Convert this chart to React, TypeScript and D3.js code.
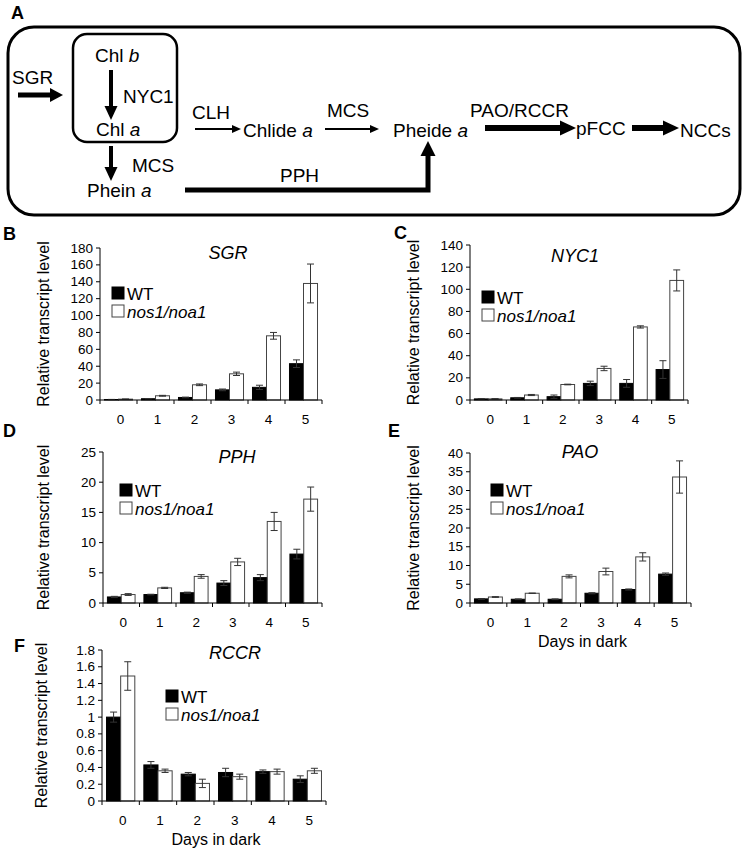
import React from "react";
import * as d3 from "d3";

// ---------- data ----------
const days = ["0", "1", "2", "3", "4", "5"];
const seriesKeys = ["wt", "mut"];
const legendLabels = ["WT", "nos1/noa1"];

const sgrWT = [0.6, 1.5, 3, 12, 15, 43];
const sgrWTErr = [0.1, 0.2, 0.4, 1, 2.5, 4.5];
const sgrMut = [1, 5, 18, 31, 76, 138];
const sgrMutErr = [0.1, 0.5, 1, 2, 4, 23];

const nyc1WT = [1, 2, 3, 15, 15, 27.5];
const nyc1WTErr = [0.2, 0.3, 1.5, 2, 3.5, 8];
const nyc1Mut = [1, 4.5, 14, 28.5, 66, 108];
const nyc1MutErr = [0.2, 0.5, 0.3, 2, 1, 9.5];

const pphWT = [1.0, 1.4, 1.7, 3.3, 4.2, 8.1];
const pphWTErr = [0.1, 0.05, 0.1, 0.4, 0.5, 0.8];
const pphMut = [1.4, 2.5, 4.4, 6.8, 13.5, 17.2];
const pphMutErr = [0.15, 0.1, 0.3, 0.6, 1.5, 2];

const paoWT = [1.1, 1.0, 1.0, 2.6, 3.6, 7.7];
const paoWTErr = [0.1, 0.1, 0.1, 0.15, 0.15, 0.3];
const paoMut = [1.6, 2.6, 7.1, 8.4, 12.3, 33.6];
const paoMutErr = [0.1, 0.05, 0.4, 0.9, 1.1, 4.3];

const rccrWT = [1.0, 0.43, 0.32, 0.34, 0.35, 0.26];
const rccrWTErr = [0.06, 0.04, 0.02, 0.05, 0.02, 0.04];
const rccrMut = [1.49, 0.36, 0.21, 0.29, 0.35, 0.36];
const rccrMutErr = [0.17, 0.02, 0.05, 0.03, 0.03, 0.03];

const yTitle = "Relative transcript level";
const xTitle = "Days in dark";

// ---------- layout ----------
const FONT = "'Liberation Sans', Arial, Helvetica, sans-serif";

type Spec = {
  letter: string; lx: number; ly: number;
  gene: string;
  wt: number[]; wtErr: number[]; mut: number[]; mutErr: number[];
  left: number; right: number; top: number; bottom: number;
  yMax: number; step: number;
  titleX: number; titleY: number;
  legX: number; legY: number;
  yLabX: number; showX: boolean;
};

const panels: Spec[] = [
  { letter: "B", lx: 3, ly: 240, gene: "SGR", wt: sgrWT, wtErr: sgrWTErr, mut: sgrMut, mutErr: sgrMutErr,
    left: 100, right: 322, top: 248, bottom: 400, yMax: 180, step: 20, titleX: 228, titleY: 259,
    legX: 112, legY: 287, yLabX: 45, showX: false },
  { letter: "C", lx: 394, ly: 239, gene: "NYC1", wt: nyc1WT, wtErr: nyc1WTErr, mut: nyc1Mut, mutErr: nyc1MutErr,
    left: 470, right: 688, top: 245, bottom: 400, yMax: 140, step: 20, titleX: 575, titleY: 262,
    legX: 482, legY: 291, yLabX: 415, showX: false },
  { letter: "D", lx: 3, ly: 437, gene: "PPH", wt: pphWT, wtErr: pphWTErr, mut: pphMut, mutErr: pphMutErr,
    left: 103, right: 322, top: 452, bottom: 603, yMax: 25, step: 5, titleX: 237, titleY: 463,
    legX: 120, legY: 484, yLabX: 45, showX: false },
  { letter: "E", lx: 388, ly: 437, gene: "PAO", wt: paoWT, wtErr: paoWTErr, mut: paoMut, mutErr: paoMutErr,
    left: 470, right: 691, top: 453, bottom: 603, yMax: 40, step: 5, titleX: 580, titleY: 458,
    legX: 491, legY: 484, yLabX: 415, showX: true },
  { letter: "F", lx: 14, ly: 652, gene: "RCCR", wt: rccrWT, wtErr: rccrWTErr, mut: rccrMut, mutErr: rccrMutErr,
    left: 102, right: 326, top: 650, bottom: 801, yMax: 1.8, step: 0.2, titleX: 235, titleY: 659,
    legX: 166, legY: 690, yLabX: 43, showX: true },
];

function Panel({ s }: { s: Spec }) {
  const x = d3.scaleBand<string>().domain(days).range([s.left, s.right]).paddingInner(0).paddingOuter(0);
  const xs = d3.scaleBand<string>().domain(seriesKeys).range([0, x.bandwidth()]).paddingInner(0).paddingOuter(0.32);
  const y = d3.scaleLinear().domain([0, s.yMax]).range([s.bottom, s.top]);
  const ticks = d3.range(0, s.yMax + s.step / 2, s.step).map((t) => +t.toFixed(3));
  const fmt = (t: number) => String(+t.toFixed(2));
  const series = [
    { key: "wt", vals: s.wt, errs: s.wtErr, fill: "#000" },
    { key: "mut", vals: s.mut, errs: s.mutErr, fill: "#fff" },
  ];
  const bounds = d3.range(0, days.length + 1).map((i) => s.left + i * x.step());
  const sq = 13;
  return (
    <g fontFamily={FONT}>
      <text x={s.lx} y={s.ly} fontSize={18} fontWeight="bold">{s.letter}</text>
      <text transform={`translate(${s.yLabX},${(s.top + s.bottom) / 2}) rotate(-90)`} textAnchor="middle"
        dominantBaseline="middle" fontSize={16}>{yTitle}</text>
      {series.map((se) =>
        se.vals.map((v, i) => {
          const bx = (x(days[i]) as number) + (xs(se.key) as number);
          const bw = xs.bandwidth();
          return (
            <rect key={se.key + i} x={bx} y={y(v)} width={bw} height={s.bottom - y(v)}
              fill={se.fill} stroke={se.key === "mut" ? "#444" : "#000"} strokeWidth={1} />
          );
        })
      )}
      {series.map((se) =>
        se.vals.map((v, i) => {
          const cx = (x(days[i]) as number) + (xs(se.key) as number) + xs.bandwidth() / 2;
          const y1 = y(v + se.errs[i]);
          const y2 = y(Math.max(0, v - se.errs[i]));
          return (
            <g key={"e" + se.key + i} stroke="#333" strokeWidth={1}>
              <line x1={cx} x2={cx} y1={y1} y2={y2} />
              <line x1={cx - 3.5} x2={cx + 3.5} y1={y1} y2={y1} />
              <line x1={cx - 3.5} x2={cx + 3.5} y1={y2} y2={y2} />
            </g>
          );
        })
      )}
      <line x1={s.left} x2={s.left} y1={s.top} y2={s.bottom} stroke="#000" strokeWidth={1} />
      {ticks.map((t) => (
        <g key={"t" + t}>
          <line x1={s.left - 4} x2={s.left} y1={y(t)} y2={y(t)} stroke="#000" strokeWidth={1} />
          <text x={s.left - 7} y={y(t)} textAnchor="end" dominantBaseline="central" fontSize={13.5}>{fmt(t)}</text>
        </g>
      ))}
      <line x1={s.left} x2={s.right} y1={s.bottom} y2={s.bottom} stroke="#000" strokeWidth={1} />
      {bounds.map((bx, i) => (
        <line key={"b" + i} x1={bx} x2={bx} y1={s.bottom} y2={s.bottom + 4} stroke="#000" strokeWidth={1} />
      ))}
      {days.map((d) => (
        <text key={"x" + d} x={(x(d) as number) + x.bandwidth() / 2 + 2} y={s.bottom + 24} textAnchor="middle" fontSize={13.5}>{d}</text>
      ))}
      {s.showX && (
        <text x={(s.left + s.right) / 2 + 2} y={s.bottom + 44} textAnchor="middle" fontSize={16}>{xTitle}</text>
      )}
      <text x={s.titleX} y={s.titleY} textAnchor="middle" fontSize={18} fontStyle="italic">{s.gene}</text>
      {legendLabels.map((lab, i) => (
        <g key={"l" + i}>
          <rect x={s.legX} y={s.legY + i * 18} width={sq - 1} height={sq - 1}
            fill={i === 0 ? "#000" : "#fff"} stroke={i === 0 ? "#000" : "#444"} strokeWidth={1} />
          <text x={s.legX + sq + 2} y={s.legY + i * 18 + sq - 0.5} fontSize={17}
            fontStyle={i === 0 ? "normal" : "italic"}>{lab}</text>
        </g>
      ))}
    </g>
  );
}

function Arrow({ x1, y1, x2, y2, w, hl, hw }: { x1: number; y1: number; x2: number; y2: number; w: number; hl: number; hw: number }) {
  const dx = x2 - x1, dy = y2 - y1;
  const len = Math.hypot(dx, dy);
  const ux = dx / len, uy = dy / len;
  const bx = x2 - ux * hl, by = y2 - uy * hl;
  const px = -uy, py = ux;
  return (
    <g>
      <line x1={x1} y1={y1} x2={bx + ux} y2={by + uy} stroke="#000" strokeWidth={w} />
      <polygon points={`${x2},${y2} ${bx + px * hw / 2},${by + py * hw / 2} ${bx - px * hw / 2},${by - py * hw / 2}`} fill="#000" />
    </g>
  );
}

function Diagram() {
  const fs = 19;
  return (
    <g fontFamily={FONT} fontSize={fs}>
      <text x={11} y={19} fontSize={18} fontWeight="bold">A</text>
      <rect x={8} y={27} width={732} height={188} rx={26} ry={26} fill="none" stroke="#000" strokeWidth={3} />
      <rect x={73} y={34} width={104} height={108} rx={14} ry={14} fill="none" stroke="#000" strokeWidth={2.5} />
      <text x={95} y={62}>Chl <tspan fontStyle="italic">b</tspan></text>
      <text x={12} y={84}>SGR</text>
      <Arrow x1={18} y1={95} x2={63} y2={95} w={5} hl={13} hw={14} />
      <Arrow x1={111} y1={70} x2={111} y2={120} w={4} hl={14} hw={13} />
      <text x={123} y={103}>NYC1</text>
      <text x={96} y={136}>Chl <tspan fontStyle="italic">a</tspan></text>
      <text x={192} y={119}>CLH</text>
      <Arrow x1={195} y1={129} x2={241} y2={129} w={2} hl={9} hw={8} />
      <text x={243} y={137}>Chlide <tspan fontStyle="italic">a</tspan></text>
      <text x={327} y={117}>MCS</text>
      <Arrow x1={325} y1={129} x2={379} y2={129} w={2} hl={9} hw={8} />
      <text x={393} y={137}>Pheide <tspan fontStyle="italic">a</tspan></text>
      <text x={470} y={117}>PAO/RCCR</text>
      <Arrow x1={485} y1={128} x2={576} y2={128} w={6} hl={16} hw={15} />
      <text x={576} y={135}>pFCC</text>
      <Arrow x1={632} y1={128} x2={679} y2={128} w={6} hl={16} hw={15} />
      <text x={680} y={137}>NCCs</text>
      <Arrow x1={111} y1={146} x2={111} y2={181} w={4} hl={14} hw={13} />
      <text x={132} y={172}>MCS</text>
      <text x={87} y={197}>Phein <tspan fontStyle="italic">a</tspan></text>
      <text x={280} y={182}>PPH</text>
      <polyline points="185,190 428,190 428,156" fill="none" stroke="#000" strokeWidth={5} strokeLinejoin="miter" />
      <polygon points="428,141 420.5,156 435.5,156" fill="#000" />
    </g>
  );
}

export default function App() {
  return (
    <svg width={747} height={852} viewBox="0 0 747 852"
      style={{ position: "absolute", left: 0, top: 0, background: "#fff", display: "block" }}>
      <rect x={0} y={0} width={747} height={852} fill="#fff" />
      <Diagram />
      {panels.map((p) => (
        <Panel key={p.letter} s={p} />
      ))}
    </svg>
  );
}
